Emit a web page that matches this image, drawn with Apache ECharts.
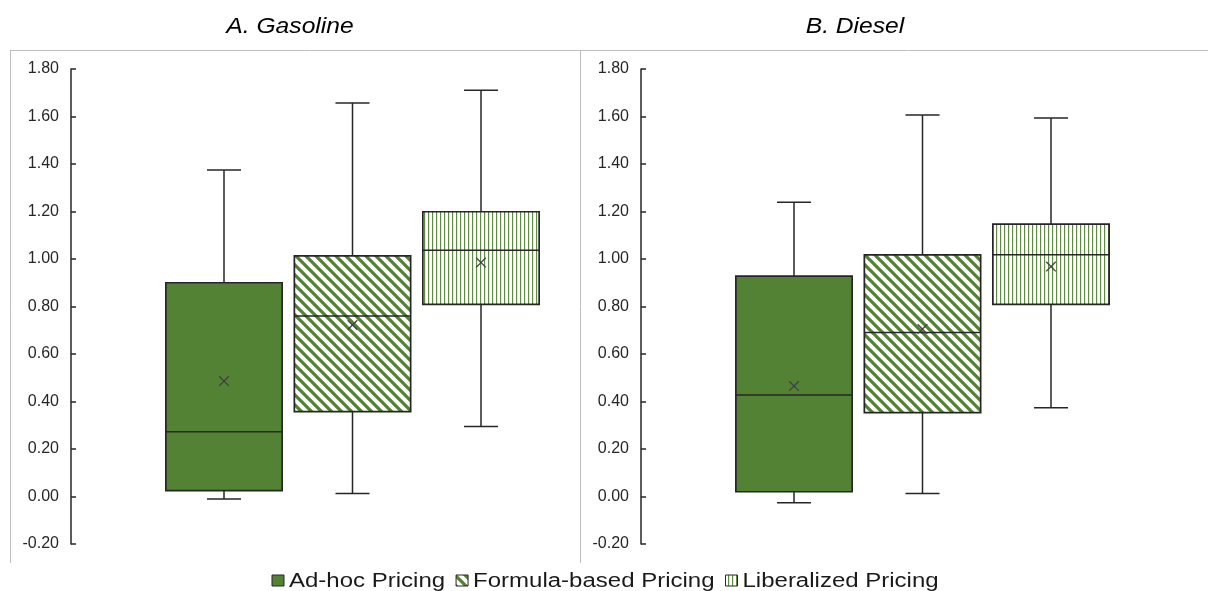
<!DOCTYPE html>
<html><head><meta charset="utf-8">
<script src="https://cdn.jsdelivr.net/npm/echarts@6/dist/echarts.min.js"></script>
<style>html,body{margin:0;padding:0;background:#fff}#c{width:1208px;height:591px}</style>
</head><body><div id="c"></div>
<script>
// ---- data ----
const categories = ['Ad-hoc Pricing', 'Formula-based Pricing', 'Liberalized Pricing'];
const panelTitles = ['A. Gasoline', 'B. Diesel'];
const yMin = -0.2, yMax = 1.8, yStep = 0.2;

const gasMin    = [-0.010, 0.013, 0.295];
const gasQ1     = [ 0.025, 0.357, 0.809];
const gasMedian = [ 0.273, 0.760, 1.037];
const gasQ3     = [ 0.900, 1.013, 1.199];
const gasMax    = [ 1.375, 1.657, 1.711];
const gasMean   = [ 0.486, 0.722, 0.985];

const dieMin    = [-0.026, 0.013, 0.374];
const dieQ1     = [ 0.020, 0.353, 0.809];
const dieMedian = [ 0.427, 0.691, 1.018];
const dieQ3     = [ 0.928, 1.017, 1.147];
const dieMax    = [ 1.239, 1.606, 1.594];
const dieMean   = [ 0.465, 0.705, 0.968];

// ---- styles ----
const GREEN = '#548235';
const INK = '#262626';
const FONT = '"Liberation Sans", Arial, sans-serif';

function diagPattern() {
  const n = 10;
  const c = document.createElement('canvas');
  c.width = n; c.height = n;
  const g = c.getContext('2d');
  g.fillStyle = '#fff'; g.fillRect(0, 0, n, n);
  g.strokeStyle = GREEN; g.lineWidth = 3.3;
  g.beginPath();
  g.moveTo(-3, -3); g.lineTo(n + 3, n + 3);
  g.moveTo(-3, n - 3); g.lineTo(3, n + 3);
  g.moveTo(n - 3, -3); g.lineTo(n + 3, 3);
  g.stroke();
  return c;
}
function vertPattern() {
  const c = document.createElement('canvas');
  c.width = 4; c.height = 4;
  const g = c.getContext('2d');
  g.fillStyle = '#fff'; g.fillRect(0, 0, 4, 4);
  g.fillStyle = '#5f8b42'; g.fillRect(0, 0, 1, 4);
  g.fillStyle = '#e2eadc'; g.fillRect(1, 0, 1, 4);
  return c;
}
const fills = [
  GREEN,
  { image: diagPattern(), repeat: 'repeat' },
  { image: vertPattern(), repeat: 'repeat' }
];

function makeRender(fill) {
  return function (params, api) {
    const cat = api.value(0);
    const band = api.size([1, 0])[0];
    const bw = band * 0.905, cw = band * 0.265;
    const pMn = api.coord([cat, api.value(1)]);
    const pQ1 = api.coord([cat, api.value(2)]);
    const pMd = api.coord([cat, api.value(3)]);
    const pQ3 = api.coord([cat, api.value(4)]);
    const pMx = api.coord([cat, api.value(5)]);
    const pMe = api.coord([cat, api.value(6)]);
    const cx = pMx[0];
    const ls = { stroke: INK, lineWidth: 1.5 };
    const m = 4.8;
    return {
      type: 'group',
      children: [
        { type: 'line', shape: { x1: cx, y1: pMx[1], x2: cx, y2: pQ3[1] }, style: ls },
        { type: 'line', shape: { x1: cx - cw / 2, y1: pMx[1], x2: cx + cw / 2, y2: pMx[1] }, style: ls },
        { type: 'line', shape: { x1: cx, y1: pQ1[1], x2: cx, y2: pMn[1] }, style: ls },
        { type: 'line', shape: { x1: cx - cw / 2, y1: pMn[1], x2: cx + cw / 2, y2: pMn[1] }, style: ls },
        { type: 'rect', shape: { x: cx - bw / 2, y: pQ3[1], width: bw, height: pQ1[1] - pQ3[1] },
          style: { fill: fill, stroke: INK, lineWidth: 1.7 } },
        { type: 'line', shape: { x1: cx - bw / 2, y1: pMd[1], x2: cx + bw / 2, y2: pMd[1] }, style: ls },
        { type: 'line', shape: { x1: cx - m, y1: pMe[1] - m, x2: cx + m, y2: pMe[1] + m }, style: { stroke: '#404040', lineWidth: 1.3 } },
        { type: 'line', shape: { x1: cx - m, y1: pMe[1] + m, x2: cx + m, y2: pMe[1] - m }, style: { stroke: '#404040', lineWidth: 1.3 } }
      ]
    };
  };
}

const panels = [
  [gasMin, gasQ1, gasMedian, gasQ3, gasMax, gasMean],
  [dieMin, dieQ1, dieMedian, dieQ3, dieMax, dieMean]
];

const series = [];
panels.forEach((p, pi) => {
  categories.forEach((name, i) => {
    series.push({
      type: 'custom',
      name: name,
      xAxisIndex: pi,
      yAxisIndex: pi,
      itemStyle: { color: fills[i], borderColor: INK, borderWidth: 1 },
      encode: { x: 0, y: [1, 2, 3, 4, 5, 6] },
      renderItem: makeRender(fills[i]),
      data: [[i, p[0][i], p[1][i], p[2][i], p[3][i], p[4][i], p[5][i]]]
    });
  });
});

// ---- legend (drawn as graphic so the wide Excel text can be matched) ----
const LEG_FS = 20, LEG_SX = 1.2;
const mctx = document.createElement('canvas').getContext('2d');
mctx.font = LEG_FS + 'px ' + FONT;
const legendEls = [];
let lx = 272;
const ly = 581;
categories.forEach((name, i) => {
  legendEls.push({ type: 'rect', shape: { x: lx, y: ly - 6, width: 12, height: 11 },
    style: { fill: fills[i], stroke: INK, lineWidth: 1 } });
  lx += 12 + 5;
  legendEls.push({ type: 'text', x: lx, y: ly, scaleX: LEG_SX,
    style: { text: name, fontSize: LEG_FS, fontFamily: FONT, fill: '#1a1a1a', align: 'left', verticalAlign: 'middle' } });
  lx += mctx.measureText(name).width * LEG_SX + 11;
});

const axisX = [71, 641];
const gridLefts = [159.75, 729.75];

const chart = echarts.init(document.getElementById('c'), null, { renderer: 'canvas' });
chart.setOption({
  animation: false,
  backgroundColor: '#fff',
  grid: gridLefts.map(l => ({ left: l, top: 69, width: 385.5, height: 475 })),
  xAxis: gridLefts.map((l, i) => ({
    type: 'category', gridIndex: i, data: categories, show: false, boundaryGap: true
  })),
  yAxis: gridLefts.map((l, i) => ({
    type: 'value', gridIndex: i, min: yMin, max: yMax, interval: yStep,
    offset: l - axisX[i],
    axisLine: { show: true, lineStyle: { color: INK, width: 1.5 } },
    axisTick: { show: true, inside: true, length: 5, lineStyle: { color: INK, width: 1.5 } },
    splitLine: { show: false },
    axisLabel: {
      margin: 12, color: '#262626', fontSize: 16, fontFamily: FONT,
      formatter: v => v.toFixed(2)
    }
  })),
  graphic: [
    { type: 'line', shape: { x1: 10, y1: 50.5, x2: 1208, y2: 50.5 }, style: { stroke: '#bfbfbf', lineWidth: 1 } },
    { type: 'line', shape: { x1: 10.5, y1: 50, x2: 10.5, y2: 563 }, style: { stroke: '#bfbfbf', lineWidth: 1 } },
    { type: 'line', shape: { x1: 580.5, y1: 50, x2: 580.5, y2: 563 }, style: { stroke: '#bfbfbf', lineWidth: 1 } },
    { type: 'text', x: 290, y: 27, scaleX: 1.12, style: { text: panelTitles[0], align: 'center', verticalAlign: 'middle',
      fontSize: 22, fontStyle: 'italic', fontFamily: FONT, fill: '#000' } },
    { type: 'text', x: 855, y: 27, scaleX: 1.12, style: { text: panelTitles[1], align: 'center', verticalAlign: 'middle',
      fontSize: 22, fontStyle: 'italic', fontFamily: FONT, fill: '#000' } }
  ].concat(legendEls),
  series: series
});
</script>
</body></html>
